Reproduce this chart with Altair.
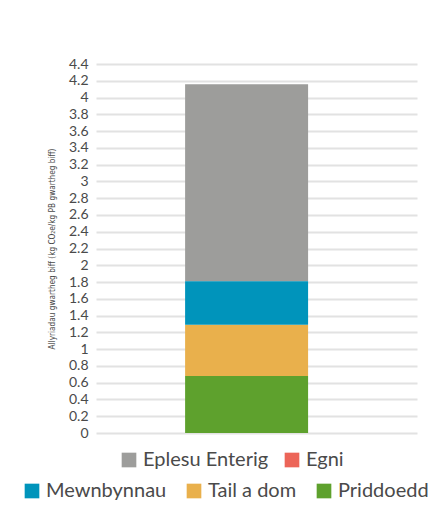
import altair as alt
import pandas as pd

categories = ["Priddoedd", "Tail a dom", "Mewnbynnau", "Egni", "Eplesu Enterig"]
values = [0.68, 0.61, 0.52, 0.0, 2.35]
stack_order = [1, 2, 3, 4, 5]
group = "Gwartheg biff"

legend1_cats = ["Eplesu Enterig", "Egni"]
legend1_cols = ["#9d9d9b", "#ec6558"]
legend2_cats = ["Mewnbynnau", "Tail a dom", "Priddoedd"]
legend2_cols = ["#0094bb", "#e9b04c", "#5ea12d"]

y_ticks = [round(i * 0.2, 1) for i in range(23)]

df = pd.DataFrame({"cat": categories, "value": values, "order": stack_order, "group": group})

FONT = "Lato"
TXT = "#4a4a4a"

base = alt.Chart(df).transform_stack(
    stack="value", groupby=["group"], sort=[alt.SortField("order", order="ascending")], as_=["y0", "y1"]
)

x_enc = alt.X("group:N", title=None,
              scale=alt.Scale(paddingInner=0, paddingOuter=0.805, align=0.45),
              axis=None)
y_enc = alt.Y("y1:Q", title="Allyriadau gwartheg biff (kg CO₂e/kg PB gwartheg biff)",
              scale=alt.Scale(domain=[0, 4.4], nice=False),
              axis=alt.Axis(values=y_ticks, labelExpr="format(datum.value, '.1~f')",
                            domain=False, ticks=False, grid=True,
                            gridColor="#e2e2e2", gridWidth=2,
                            labelFont=FONT, labelFontSize=14, labelColor=TXT, labelPadding=8,
                            titleFont="DejaVu Sans Condensed", titleFontSize=8.2,
                            titleFontWeight="normal", titleColor=TXT, titlePadding=12))

def legend(x, y, cols, pad):
    return alt.Legend(title=None, orient="none", legendX=x, legendY=y, direction="horizontal",
                      columns=cols, labelFont=FONT, labelFontSize=20, labelColor=TXT,
                      symbolType="square", symbolSize=215, symbolStrokeWidth=0,
                      labelOffset=4, columnPadding=pad, padding=0)

layer1 = base.transform_filter(alt.FieldOneOfPredicate(field="cat", oneOf=legend1_cats)).mark_bar().encode(
    x=x_enc, y=y_enc, y2="y0:Q",
    color=alt.Color("cat:N", scale=alt.Scale(domain=legend1_cats, range=legend1_cols),
                    legend=legend(23, 386, 2, 13)),
)
layer2 = base.transform_filter(alt.FieldOneOfPredicate(field="cat", oneOf=legend2_cats)).mark_bar().encode(
    x=x_enc, y=y_enc, y2="y0:Q",
    color=alt.Color("cat:N", scale=alt.Scale(domain=legend2_cats, range=legend2_cols),
                    legend=legend(-74, 417, 3, 17)),
)

chart = alt.layer(layer1, layer2).resolve_scale(color="independent").properties(
    width=321, height=369,
    autosize=alt.AutoSizeParams(type="none"),
    padding={"left": 88, "top": 56, "right": 14, "bottom": 91},
    background="white",
).configure_view(stroke=None)

chart.save("out.html", embed_options={"renderer": "svg", "actions": False})
